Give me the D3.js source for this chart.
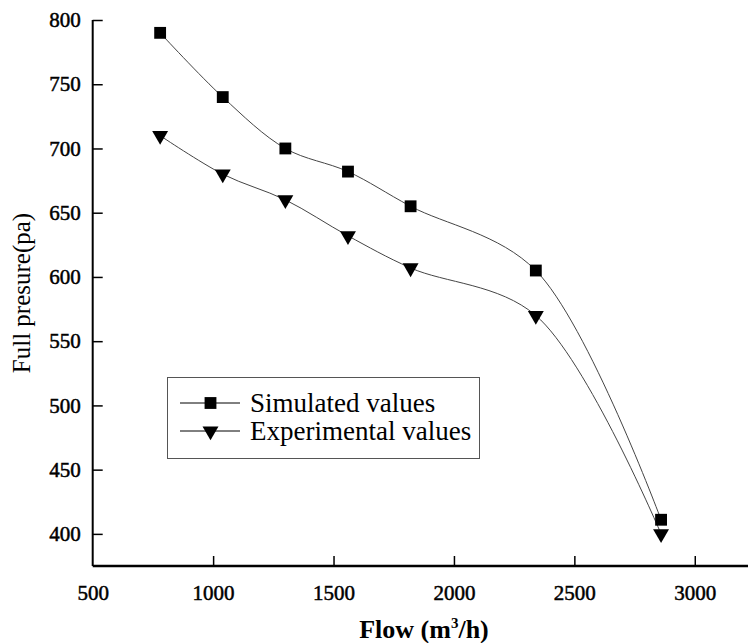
<!DOCTYPE html>
<html>
<head>
<meta charset="utf-8">
<script src="https://cdn.jsdelivr.net/npm/d3@7"></script>
<style>
  body { margin: 0; background: #fff; }
  text { font-family: "Liberation Serif", "Times New Roman", serif; fill: #000; }
</style>
</head>
<body>
<div class="chart"></div>
<script>
// data
var flow = [780, 1040, 1300, 1560, 1820, 2340, 2860];
var simulated = [790, 740, 700, 682, 655, 605, 411];
var experimental = [710, 680, 660, 632, 607, 570, 400];
var xTicks = [500, 1000, 1500, 2000, 2500, 3000];
var yTicks = [400, 450, 500, 550, 600, 650, 700, 750, 800];
var seriesNames = ["Simulated values", "Experimental values"];

var svgWidth = 748;
var svgHeight = 643;

var svg = d3.select(".chart")
  .append("svg")
  .attr("width", svgWidth)
  .attr("height", svgHeight);

// scales
var xScale = d3.scaleLinear()
  .domain([500, 3221])
  .range([92.7, 748]);

var yScale = d3.scaleLinear()
  .domain([375, 800])
  .range([566, 20]);

// x axis
var xAxis = svg.append("g")
  .attr("transform", "translate(0, 566)")
  .call(d3.axisBottom(xScale).tickValues(xTicks).tickSize(-10).tickPadding(19).tickFormat(d3.format("d")));

xAxis.select(".domain").attr("stroke-width", 2.5).attr("d", "M92.7,0H748");
xAxis.selectAll(".tick line").attr("stroke-width", 1.5);
xAxis.selectAll(".tick").filter(d => d === 500).select("line").remove();
xAxis.selectAll(".tick text")
  .attr("font-size", 21)
  .attr("dy", "0.71em")
  .style("font-family", "'Liberation Serif', serif")
  .attr("stroke", "#000")
  .attr("stroke-width", 0.5);

// y axis
var yAxis = svg.append("g")
  .attr("transform", "translate(92.7, 0)")
  .call(d3.axisLeft(yScale).tickValues(yTicks).tickSize(-10).tickPadding(12).tickFormat(d3.format("d")));

yAxis.select(".domain").attr("stroke-width", 2).attr("d", "M0,20V566");
yAxis.selectAll(".tick line").attr("stroke-width", 1.5);
yAxis.selectAll(".tick text")
  .attr("font-size", 21)
  .style("font-family", "'Liberation Serif', serif")
  .attr("stroke", "#000")
  .attr("stroke-width", 0.5);

// axis titles
var flowLabel = svg.append("text")
  .attr("x", 424)
  .attr("y", 638)
  .attr("text-anchor", "middle")
  .attr("font-size", 26)
  .attr("font-weight", "bold");
flowLabel.append("tspan").text("Flow (m");
flowLabel.append("tspan").attr("font-size", 15).attr("dy", -10).text("3");
flowLabel.append("tspan").attr("dy", 10).text("/h)");

svg.append("text")
  .attr("transform", "translate(30, 293) rotate(-90)")
  .attr("text-anchor", "middle")
  .attr("font-size", 25)
  .text("Full presure(pa)");

// curves
var line = d3.line()
  .x(d => xScale(d[0]))
  .y(d => yScale(d[1]))
  .curve(d3.curveCatmullRom.alpha(0.5));

var simData = flow.map((f, i) => [f, simulated[i]]);
var expData = flow.map((f, i) => [f, experimental[i]]);

[simData, expData].forEach(function(data) {
  svg.append("path")
    .datum(data)
    .attr("d", line)
    .attr("fill", "none")
    .attr("stroke", "#444")
    .attr("stroke-width", 1);
});

var square = d3.symbol().type(d3.symbolSquare).size(140);
var triangle = d3.symbol().type(d3.symbolTriangle).size(110);

svg.selectAll(".sim")
  .data(simData)
  .enter()
  .append("path")
  .attr("class", "sim")
  .attr("d", square)
  .attr("transform", d => `translate(${xScale(d[0])}, ${yScale(d[1])})`)
  .attr("fill", "#000");

svg.selectAll(".exp")
  .data(expData)
  .enter()
  .append("path")
  .attr("class", "exp")
  .attr("d", triangle)
  .attr("transform", d => `translate(${xScale(d[0])}, ${yScale(d[1])}) rotate(180)`)
  .attr("fill", "#000");

// legend
var legend = svg.append("g");
legend.append("rect")
  .attr("x", 167.5)
  .attr("y", 377.5)
  .attr("width", 312)
  .attr("height", 81)
  .attr("fill", "#fff")
  .attr("stroke", "#555")
  .attr("stroke-width", 1);

var rows = [403, 431];
seriesNames.forEach(function(name, i) {
  legend.append("line")
    .attr("x1", 180).attr("x2", 240)
    .attr("y1", rows[i]).attr("y2", rows[i])
    .attr("stroke", "#000")
    .attr("stroke-width", 1);
  legend.append("path")
    .attr("d", i === 0 ? square : triangle)
    .attr("transform", `translate(210.5, ${rows[i]})` + (i === 1 ? " rotate(180)" : ""))
    .attr("fill", "#000");
  legend.append("text")
    .attr("x", 250)
    .attr("y", rows[i])
    .attr("dy", "0.35em")
    .attr("font-size", 27)
    .text(name);
});
</script>
</body>
</html>
